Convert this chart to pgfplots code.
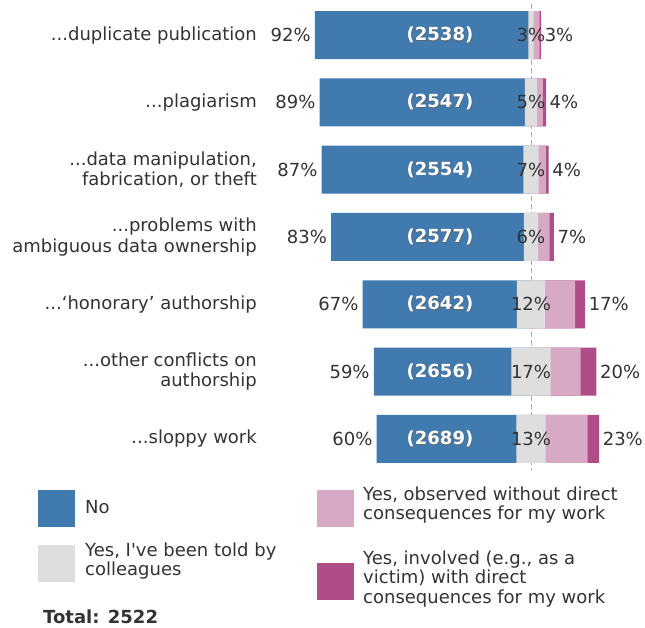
\documentclass[border=0pt]{standalone}
\usepackage{pgfplots}
\pgfplotsset{compat=1.18}
\usepackage{pgfplotstable}
\usepackage{fontspec}
\setmainfont{DejaVu Sans}
\definecolor{cno}{RGB}{65,122,175}
\definecolor{ctold}{RGB}{222,222,222}
\definecolor{cobs}{RGB}{215,169,197}
\definecolor{cinv}{RGB}{174,77,134}
\definecolor{txt}{RGB}{51,51,51}
\newcommand\fs{\fontsize{18bp}{20.5bp}\selectfont}
\newcommand\fsl{\fontsize{18bp}{19.6bp}\selectfont}
\newcommand\dd{.{}.{}.}

\pgfplotstableread{
y no told obs inv nolab toldlab rlab cnt
0 92.4 2.3 2.6 0.6 92 3 3 2538
1 88.8 5.4 2.4 1.4 89 5 4 2547
2 87.4 6.5 3.2 1.2 87 7 4 2554
3 83.5 6.1 5.0 1.9 83 6 7 2577
4 66.8 12.2 13.0 4.3 67 12 17 2642
5 59.6 16.9 13.0 6.9 59 17 20 2656
6 60.5 12.6 18.2 5.0 60 13 23 2689
}\data

\pgfplotsset{
  base/.style={scale only axis, width=378.84bp, height=471.1bp,
    xmin=-115, xmax=49, ymin=-0.5, ymax=6.5, y dir=reverse,
    clip=false, at={(265.35bp,626.6bp)}, anchor=north west},
  lab/.style 2 args={only marks, mark=none, point meta=explicit symbolic,
    nodes near coords align={anchor=#1},
    every node near coord/.append style={anchor=#1, #2, inner sep=0pt, text=txt, font=\fs}},
  seg/.style={draw=none, fill=#1, bar shift=0pt},
}

\begin{document}
\begin{tikzpicture}
\useasboundingbox (0,0) rectangle (645bp,628bp);

% background reference line
\begin{axis}[base, hide axis]
\addplot[color=black!35, dash pattern=on 5bp off 3bp, line width=0.9bp] coordinates {(0,-0.46) (0,6.46)};
\end{axis}

% bars (each drawn from 0; later ones overlap earlier ones)
\begin{axis}[base, xbar, bar width=48bp,
  axis line style={draw=none}, xtick=\empty, ytick={0,1,2,3,4,5,6},
  major tick length=0pt, tick style={draw=none},
  yticklabel shift=8.35bp,
  yticklabel style={anchor=east, inner sep=0pt, align=right, font=\fs, text=txt},
  yticklabels={{\dd duplicate publication}, {\dd plagiarism},
    {\dd data manipulation,\\fabrication, or theft},
    {\dd problems with\\ambiguous data ownership},
    {\dd‘honorary’ authorship},
    {\dd other conflicts on\\authorship},
    {\dd sloppy work}}]
\addplot[seg=cinv] table[x expr=0.5*\thisrow{told}+\thisrow{obs}+\thisrow{inv}, y=y]{\data};
\addplot[seg=cobs] table[x expr=0.5*\thisrow{told}+\thisrow{obs}, y=y]{\data};
\addplot[seg=cno] table[x expr=-\thisrow{no}-0.5*\thisrow{told}, y=y]{\data};
\addplot[seg=ctold] table[x expr=0.5*\thisrow{told}, y=y]{\data};
\addplot[seg=ctold] table[x expr=-0.5*\thisrow{told}, y=y]{\data};
\end{axis}

% labels
\begin{axis}[base, hide axis]
\addplot[lab={east}{xshift=-4bp}, nodes near coords={\pgfplotspointmeta\%}]
  table[x expr=-\thisrow{no}-0.5*\thisrow{told}, y=y, meta=nolab]{\data};
\addplot[lab={center}{}, nodes near coords={\pgfplotspointmeta\%}]
  table[x expr=0, y=y, meta=toldlab]{\data};
\addplot[lab={west}{xshift=3.5bp}, nodes near coords={\pgfplotspointmeta\%}]
  table[x expr=0.5*\thisrow{told}+\thisrow{obs}+\thisrow{inv}, y=y, meta=rlab]{\data};
\addplot[lab={center}{xshift=0.7bp, yshift=-0.7bp}, nodes near coords={\textcolor{black!60}{\bfseries(\pgfplotspointmeta)}}]
  table[x expr=-39.4, y=y, meta=cnt]{\data};
\addplot[lab={center}{}, nodes near coords={\textcolor{white}{\bfseries(\pgfplotspointmeta)}}]
  table[x expr=-39.4, y=y, meta=cnt]{\data};
\end{axis}

% legend
\begin{scope}[x=1bp, y=1bp]
\fill[cno] (38,101) rectangle (75,138);
\fill[ctold] (38,46) rectangle (75,83);
\fill[cobs] (317,101) rectangle (354,138);
\fill[cinv] (317,28) rectangle (354,65);
\node[anchor=west, inner sep=0pt, text=txt, font=\fsl] at (85,120.5) {No};
\node[anchor=west, inner sep=0pt, text=txt, font=\fsl, align=left] at (85,67) {Yes, I\textquotesingle ve been told by\\colleagues};
\node[anchor=west, inner sep=0pt, text=txt, font=\fsl, align=left] at (363,123) {Yes, observed without direct\\consequences for my work};
\node[anchor=west, inner sep=0pt, text=txt, font=\fsl, align=left] at (363,49) {Yes, involved (e.g., as a\\victim) with direct\\consequences for my work};
\node[anchor=west, inner sep=0pt, text=txt, font=\fs\bfseries] at (43,11) {Total: 2522};
\end{scope}
\end{tikzpicture}
\end{document}
